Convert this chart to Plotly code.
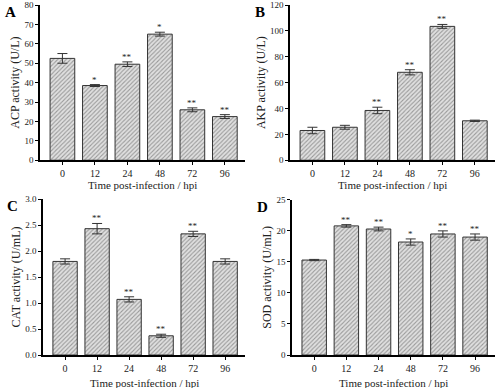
import plotly.graph_objects as go

times = ["0", "12", "24", "48", "72", "96"]
acp = [52.5, 38.5, 49.5, 65.0, 26.0, 22.5]
acp_err = [2.5, 0.5, 1.2, 1.0, 1.0, 1.0]
acp_sig = ["", "*", "**", "*", "**", "**"]
akp = [23.0, 25.5, 38.5, 68.0, 103.5, 30.5]
akp_err = [2.5, 1.5, 2.5, 2.0, 1.5, 0.5]
akp_sig = ["", "", "**", "**", "**", ""]
cat = [1.80, 2.43, 1.07, 0.37, 2.33, 1.80]
cat_err = [0.05, 0.10, 0.05, 0.03, 0.05, 0.05]
cat_sig = ["", "**", "**", "**", "**", ""]
sod = [15.3, 20.8, 20.3, 18.2, 19.5, 19.0]
sod_err = [0.1, 0.2, 0.3, 0.5, 0.5, 0.5]
sod_sig = ["", "**", "**", "*", "**", "**"]

FONT = "Liberation Serif"
panels = [
    dict(letter="A", y=acp, e=acp_err, s=acp_sig, title="ACP activity (U/L)",
         xd=[0.08, 0.49], yd=[0.587, 0.987], rng=[0, 80], dt=10, fmt="d", xt=0.524),
    dict(letter="B", y=akp, e=akp_err, s=akp_sig, title="AKP activity (U/L)",
         xd=[0.58, 0.99], yd=[0.587, 0.987], rng=[0, 120], dt=20, fmt="d", xt=0.524),
    dict(letter="C", y=cat, e=cat_err, s=cat_sig, title="CAT activity (U/mL)",
         xd=[0.086, 0.49], yd=[0.085, 0.487], rng=[0, 3.0], dt=0.5, fmt=".1f", xt=0.014),
    dict(letter="D", y=sod, e=sod_err, s=sod_sig, title="SOD activity (U/mL)",
         xd=[0.584, 0.99], yd=[0.085, 0.485], rng=[0, 25], dt=5, fmt="d", xt=0.014),
]

fig = go.Figure()
xs = list(range(len(times)))
for i, p in enumerate(panels):
    n = "" if i == 0 else str(i + 1)
    fig.add_trace(go.Bar(
        x=xs, y=p["y"], width=0.76,
        marker=dict(color="#d9d9d9", line=dict(color="#333333", width=1),
                    pattern=dict(shape="/", fgcolor="#9a9a9a", bgcolor="#e0e0e0",
                                 size=3, solidity=0.35)),
        error_y=dict(type="data", array=p["e"], color="#333333", thickness=1, width=5),
        xaxis="x" + n, yaxis="y" + n, showlegend=False))
    fig.layout["xaxis" + n] = dict(
        domain=p["xd"], anchor="y" + n, range=[-0.69, 5.62], automargin=False,
        tickvals=xs, ticktext=times, showline=True, linecolor="black", linewidth=2,
        ticks="outside", ticklen=3, tickcolor="black", showgrid=False, zeroline=False,
        tickfont=dict(family=FONT, size=10, color="#222"))
    fig.layout["yaxis" + n] = dict(
        domain=p["yd"], anchor="x" + n, range=p["rng"], dtick=p["dt"], tickformat=p["fmt"],
        showline=True, linecolor="black", linewidth=1.5, ticks="outside", ticklen=3,
        tickcolor="black", showgrid=False, zeroline=False, automargin=False,
        tickfont=dict(family=FONT, size=9, color="#222"),
        title=dict(text=p["title"], standoff=2, font=dict(family=FONT, size=12, color="#222")))
    fig.add_annotation(x=(p["xd"][0] + p["xd"][1]) / 2, y=p["xt"], xref="paper", yref="paper",
                       text="Time post-infection / hpi", showarrow=False,
                       xanchor="center", yanchor="middle",
                       font=dict(family=FONT, size=11, color="#222"))
    for xi, yv, ev, sg in zip(xs, p["y"], p["e"], p["s"]):
        if sg:
            fig.add_annotation(x=xi, y=yv + ev, text=sg, showarrow=False, yshift=5,
                               xref="x" + n, yref="y" + n,
                               font=dict(family=FONT, size=9, color="#222"))
    fig.add_annotation(x=p["xd"][0] - 0.075, y=p["yd"][1] + 0.008, xref="paper", yref="paper",
                       text="<b>" + p["letter"] + "</b>", showarrow=False,
                       xanchor="left", yanchor="top",
                       font=dict(family=FONT, size=15, color="black"))

fig.update_layout(width=500, height=388, margin=dict(l=0, r=0, t=0, b=0), template="none",
                  plot_bgcolor="white", paper_bgcolor="white", bargap=0.25)
fig.write_html("out.html", config={"displayModeBar": False},
               post_script="document.body.style.margin='0';document.body.style.overflow='hidden';")
